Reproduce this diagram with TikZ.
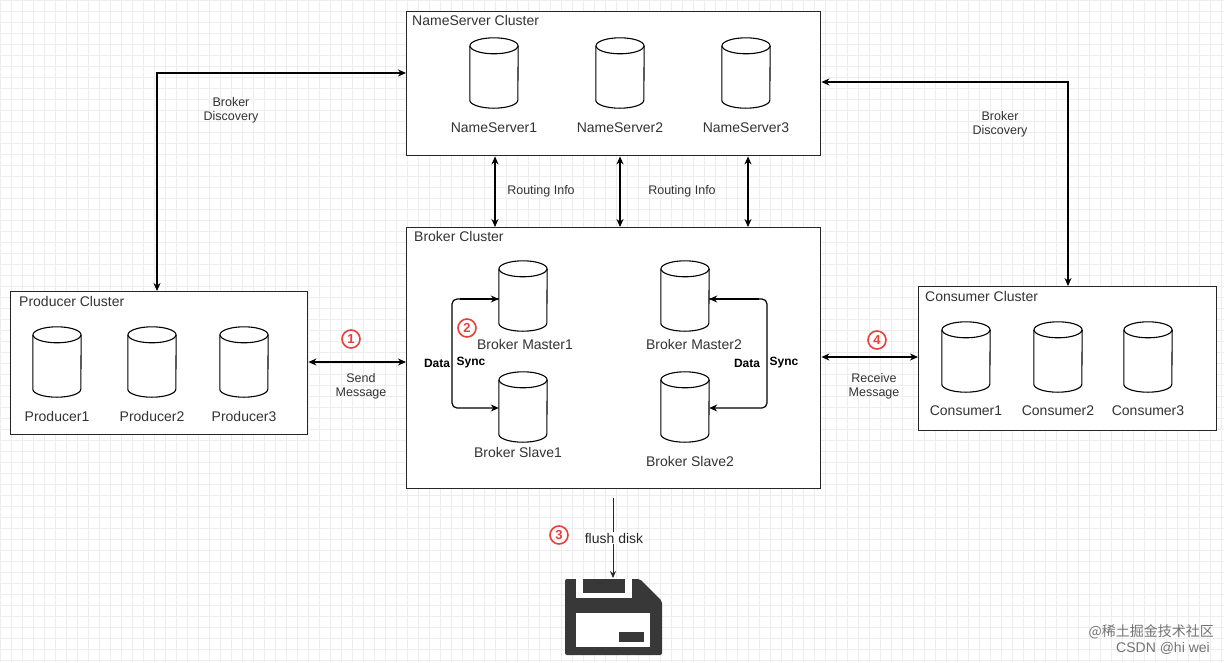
\documentclass[tikz,border=0pt]{standalone}
\usepackage{fontspec}
\setmainfont{Liberation Sans}
\newfontfamily\cjk{Noto Sans CJK SC}
\usetikzlibrary{arrows.meta}
\definecolor{txt}{HTML}{333333}
\definecolor{num}{HTML}{E8403A}
\newcommand\mydb[2]{%
  \node[dbn] (#1) at (#2) {};
  \draw[dbs] ([yshift=-8pt]#1.north west) -- ([yshift=8pt]#1.south west)
     arc[start angle=180,end angle=360,x radius=24pt,y radius=8pt]
     -- ([yshift=-8pt]#1.north east);
  \draw[dbs] ([yshift=-8pt]#1.north) ellipse[x radius=24pt,y radius=8pt];}
\begin{document}
\begin{tikzpicture}[x=1pt,y=-1pt,
  box/.style={draw=black!85,line width=1.4pt,fill=white},
  dbn/.style={minimum width=48pt,minimum height=70pt,inner sep=0pt,draw=none},
  dbs/.style={draw=black,line width=1.1pt,fill=white},
  lbl/.style={text=txt,font=\fontsize{14}{16}\selectfont,inner sep=0pt},
  ttl/.style={text=txt,font=\fontsize{14}{16}\selectfont,anchor=north west,inner sep=0pt},
  sm/.style={text=txt,font=\fontsize{12.5}{14}\selectfont,align=center,inner sep=0pt},
  bd/.style={font=\bfseries\fontsize{12}{14}\selectfont,inner sep=1pt,fill=white},
  arr/.style={line width=1.2pt,{Stealth[length=8pt,width=7pt]}-{Stealth[length=8pt,width=7pt]}},
  sarr/.style={line width=1.2pt,-{Stealth[length=8pt,width=7pt]}},
  stepno/.style={circle,draw=num,line width=1.6pt,text=num,font=\bfseries\fontsize{13}{13}\selectfont,inner sep=0pt,minimum size=18pt}]
\fill[white] (0,0) rectangle (1224,662);
\useasboundingbox (0,0) rectangle (1224,662);
\foreach \g in {0,11,...,1224}{\draw[black!7,line width=0.5pt] (\g,0) -- (\g,662);}
\foreach \g in {0,11,...,662}{\draw[black!7,line width=0.5pt] (0,\g) -- (1224,\g);}
% boxes
\node[box,minimum width=414pt,minimum height=144pt,anchor=north west] (ns) at (406,11) {};
\node[box,minimum width=414pt,minimum height=261pt,anchor=north west] (bk) at (406,227) {};
\node[box,minimum width=297pt,minimum height=143pt,anchor=north west] (pc) at (10,291) {};
\node[box,minimum width=298pt,minimum height=144pt,anchor=north west] (cc) at (918,286) {};
\node[ttl] (nst) at (412,15) {NameServer Cluster};
\node[ttl] (bkt) at (414,231) {Broker Cluster};
\node[ttl] (pct) at (19,296) {Producer Cluster};
\node[ttl] (cct) at (925,291) {Consumer Cluster};
% nameservers
\foreach \i/\x in {1/494,2/620,3/746}{
  \mydb{n\i}{\x,73}
  \node[lbl] (n\i l) at (\x,128) {NameServer\i};}
% producers
\foreach \i/\x in {1/57,2/152,3/244}{
  \mydb{p\i}{\x,362}
  \node[lbl] (p\i l) at (\x,416) {Producer\i};}
% consumers
\foreach \i/\x in {1/966,2/1058,3/1148}{
  \mydb{c\i}{\x,357}
  \node[lbl] (c\i l) at (\x,411) {Consumer\i};}
% brokers
\mydb{m1}{523,296}
\node[lbl] (m1l) at (525,344) {Broker Master1};
\mydb{s1}{523,407}
\node[lbl] (s1l) at (518,452) {Broker Slave1};
\mydb{m2}{685,296}
\node[lbl] (m2l) at (694,344) {Broker Master2};
\mydb{s2}{685,407}
\node[lbl] (s2l) at (690,461) {Broker Slave2};
% discovery
\coordinate (dl) at (157,73);
\draw[arr] (ns.west |- 0,73) -- (dl) -- (pc.north -| dl);
\node[sm] (bd1) at (231,110) {Broker\\Discovery};
\coordinate (dr) at (1068,82);
\draw[arr] (ns.east |- 0,82) -- (dr) -- (cc.north -| dr);
\node[sm] (bd2) at (1000,124) {Broker\\Discovery};
% routing
\foreach \x in {495,620,748}{\draw[arr] (ns.south -| \x,0) -- (bk.north -| \x,0);}
\node[sm] (r1) at (541,191) {Routing Info};
\node[sm] (r2) at (682,191) {Routing Info};
% send / receive
\draw[arr] (pc.east |- 0,362) -- (bk.west |- 0,362);
\node[stepno] (st1) at (351,339) {1};
\node[sm] (sm1) at (361,386) {Send\\Message};
\draw[arr] (bk.east |- 0,357) -- (cc.west |- 0,357);
\node[stepno] (st4) at (877,340) {4};
\node[sm] (sm2) at (874,386) {Receive\\Message};
% data sync
\draw[sarr,rounded corners=5pt] (m1.west |- 0,299) -- (452,299) -- (452,408) -- (s1.west |- 0,408);
\draw[-{Stealth[length=8pt,width=7pt]},line width=1.2pt] (460,299) -- (m1.west |- 0,299);
\node[bd] (ds1) at (437,363) {Data};
\node[bd] (ds2) at (471,363) {Sync};
\node[stepno] (st2) at (467,328) {2};
\draw[sarr,rounded corners=5pt] (m2.east |- 0,299) -- (767,299) -- (767,408) -- (s2.east |- 0,408);
\draw[-{Stealth[length=8pt,width=7pt]},line width=1.2pt] (759,299) -- (m2.east |- 0,299);
\node[bd] (ds3) at (747,363) {Data};
\node[bd] (ds4) at (784,363) {Sync};
% flush
\coordinate (fs) at (613,498);
\coordinate (fe) at (613,578);
\draw[-{Stealth[length=7pt,width=6pt]},line width=0.8pt,black!85] (fs) -- (fe);
\node[text=black!85,font=\fontsize{14}{16}\selectfont,fill=white,inner sep=1pt] (fl) at (614,538) {flush disk};
\node[stepno] (st3) at (559,535) {3};
% floppy
\fill[black!78,rounded corners=2pt] (565,579) -- (640,579) -- (662,601) -- (662,655) -- (565,655) -- cycle;
\fill[white] (576,579) rectangle (632,598);
\fill[black!78] (583,579) rectangle (625,593);
\fill[white] (576,613) rectangle (650,647);
\fill[black!78] (619,632) rectangle (644,642);
% watermark
\node[text=black!55,font=\cjk\fontsize{14}{16}\selectfont,anchor=east,inner sep=0pt] (wm1) at (1214,632) {@稀土掘金技术社区};
\node[text=black!55,font=\fontsize{14}{16}\selectfont,anchor=east,inner sep=0pt] (wm2) at (1210,648) {CSDN @hi wei};
\end{tikzpicture}
\end{document}
